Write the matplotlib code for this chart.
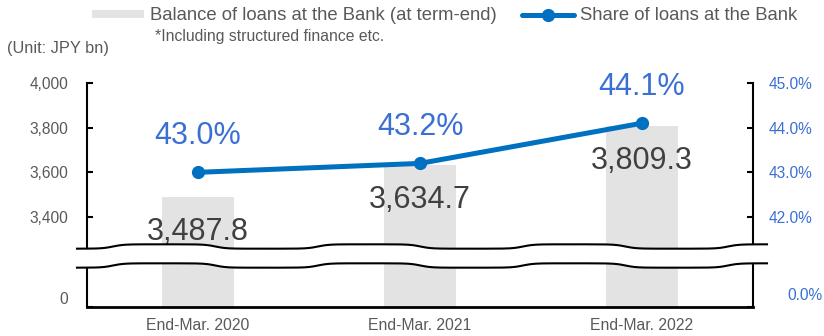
import numpy as np
import matplotlib.pyplot as plt

plt.rcParams['font.family'] = ['Liberation Sans', 'DejaVu Sans']

# data
years = ['End-Mar. 2020', 'End-Mar. 2021', 'End-Mar. 2022']
balance = [3487.8, 3634.7, 3809.3]     # JPY bn
share = [43.0, 43.2, 44.1]             # %
left_ticks = [0, 3400, 3600, 3800, 4000]
right_ticks = [0.0, 42.0, 43.0, 44.0, 45.0]

GRAY_TXT = '#595959'
DARK_TXT = '#404040'
BLUE_TXT = '#3a6fd5'
LINE_BLUE = '#0070c0'
BAR_GRAY = '#e3e3e3'


# broken axis: linear above the break, squeezed below it
def make_break(brk, t0):
    k = (brk - t0) / brk

    def fwd(v):
        v = np.asarray(v, dtype=float)
        return np.where(v >= brk, v, brk - (brk - v) * k)

    def inv(t):
        t = np.asarray(t, dtype=float)
        return np.where(t >= brk, t, brk - (brk - t) / k)
    return fwd, inv


fig = plt.figure(figsize=(8.24, 3.36), dpi=100)
ax = fig.add_axes([87 / 824, 29 / 336, 666 / 824, 224 / 336])
ax2 = ax.twinx()

ax.set_yscale('function', functions=make_break(3200, 2997))
ax2.set_yscale('function', functions=make_break(41.0, 39.985))

x = np.arange(len(years))
bars = ax.bar(x, balance, width=0.32, color=BAR_GRAY, zorder=1)
line, = ax2.plot(x, share, color=LINE_BLUE, lw=3.6, marker='o', ms=8.5,
                 solid_capstyle='round', zorder=3)

ax.set_xlim(-0.5, 2.5)
ax.set_ylim(0, 4000)
ax2.set_ylim(0, 45)

ax.set_xticks(x)
ax.set_xticklabels(years, color=GRAY_TXT, fontsize=11.3)
ax.tick_params(axis='x', length=0, pad=8)

ax.set_yticks(left_ticks)
ax.set_yticklabels([f'{v:,}' for v in left_ticks], color=GRAY_TXT, fontsize=11.2)
ax.tick_params(axis='y', direction='in', length=4, width=1.5, pad=13.5)
ax.get_yticklabels()[0].set_va('bottom')

# the 0.0% label sits further right, so it is placed separately
ax2.set_yticks(right_ticks)
ax2.set_yticklabels([''] + [f'{v:.1f}%' for v in right_ticks[1:]],
                    color=BLUE_TXT, fontsize=11.2)
ax2.tick_params(axis='y', direction='in', length=4, width=1.5, pad=11.5)
ax2.annotate(f'{right_ticks[0]:.1f}%', (1, right_ticks[0]),
             xycoords=('axes fraction', 'data'), xytext=(69, 4),
             textcoords='offset pixels', ha='right', va='bottom',
             color=BLUE_TXT, fontsize=11.2, annotation_clip=False)

for a in (ax, ax2):
    a.spines['top'].set_visible(False)
ax.spines['right'].set_visible(False)
ax2.spines['left'].set_visible(False)
ax2.spines['bottom'].set_visible(False)
ax.spines['left'].set_linewidth(1.5)
ax.spines['bottom'].set_linewidth(2)
ax2.spines['right'].set_linewidth(1.5)

# value labels
for i, v in enumerate(balance):
    ax.annotate(f'{v:,.1f}', (i, v), xytext=(0, -35), textcoords='offset pixels',
                ha='center', va='center', fontsize=22, color=DARK_TXT)
for i, v in enumerate(share):
    ax2.annotate(f'{v:.1f}%', (i, v), xytext=(0, 36), textcoords='offset pixels',
                 ha='center', va='center', fontsize=22, color=BLUE_TXT)

# wavy break band across both axes
xs = np.linspace(-10, 680, 600)          # pixels from the left spine
wave = 2.2 * np.tanh(3 * np.sin(2 * np.pi * (xs + 87 - 113) / 205))
xa = xs / 666
top = (307 - 246.5 + wave) / 224
bot = (307 - 265.5 + wave) / 224
ax2.fill_between(xa, bot, top, color='white', transform=ax2.transAxes,
                 clip_on=False, zorder=10, lw=0)
for yy in (top, bot):
    ax2.plot(xa, yy, color='black', lw=1.5, transform=ax2.transAxes,
             clip_on=False, zorder=11)

fig.legend([bars, line],
           ['Balance of loans at the Bank (at term-end)', 'Share of loans at the Bank'],
           loc='center left', bbox_to_anchor=(92 / 824, 1 - 16 / 336), ncol=2,
           frameon=False, fontsize=13.3, labelcolor=GRAY_TXT, numpoints=1,
           handlelength=2.8, handleheight=0.3, handletextpad=0.35,
           columnspacing=1.35, borderpad=0, borderaxespad=0)

fig.text(155 / 824, 1 - 36 / 336, '*Including structured finance etc.',
         fontsize=11.3, color=GRAY_TXT, va='center')
fig.text(7 / 824, 1 - 48 / 336, '(Unit: JPY bn)', fontsize=11.8,
         color=GRAY_TXT, va='center')

fig.savefig('out.png', dpi=100)
